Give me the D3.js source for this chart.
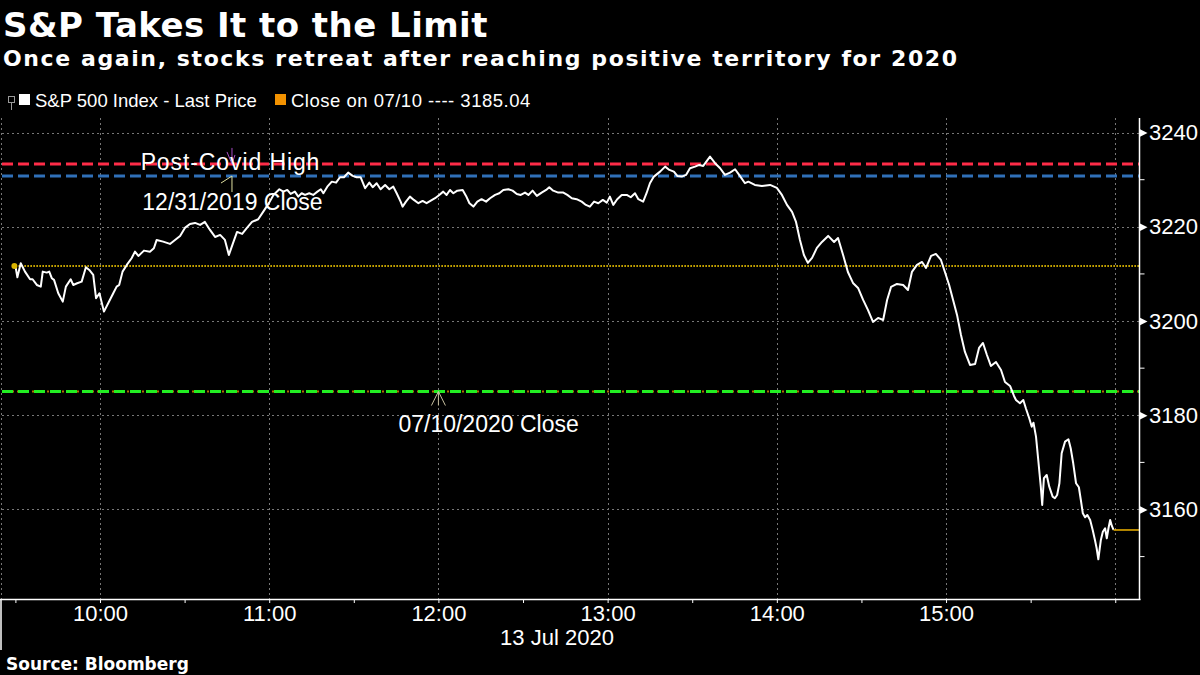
<!DOCTYPE html>
<html><head><meta charset="utf-8">
<script src="https://cdn.jsdelivr.net/npm/d3@7"></script>
<style>
body{margin:0;background:#000;}
svg{display:block;background:#000}
</style></head><body>
<svg id="c" width="1200" height="675"></svg>
<script>
// ---- DATA ----
// minutes after the 09:30 open on 13 Jul 2020
const minutesFromOpen = [
0.0,0.7,1.9,3.4,5.2,6.1,7.6,9.0,9.7,11.1,12.0,12.9,13.7,15.2,16.8,17.9,19.6,20.5,21.9,23.5,
25.0,26.2,27.6,28.6,29.8,31.4,32.9,34.7,35.9,36.8,38.0,39.5,41.2,42.4,43.6,45.6,47.7,49.1,50.1,52.4,
54.8,56.6,58.4,60.1,61.9,63.7,65.5,67.2,69.0,70.8,72.6,74.3,75.7,77.2,78.6,80.4,82.1,83.9,86.1,87.9,
90.0,91.5,93.6,95.0,96.4,97.6,99.1,100.3,101.5,102.7,104.2,105.6,107.1,108.3,109.2,110.6,112.2,113.7,115.1,116.5,
118.0,119.6,121.0,122.4,124.0,125.5,126.7,128.1,129.5,131.1,132.6,134.0,135.2,136.6,137.3,138.5,139.9,141.3,142.9,144.4,
145.8,147.3,148.8,150.3,151.7,152.9,154.1,155.3,156.7,158.6,159.8,161.0,162.4,163.8,165.3,166.9,168.3,170.1,171.6,173.0,
174.8,176.3,177.8,179.2,180.7,181.9,183.4,184.9,186.6,188.2,189.3,190.7,192.5,194.3,195.7,197.3,199.0,200.8,202.3,203.7,
205.2,206.7,208.3,209.7,210.8,212.0,213.4,215.0,216.8,218.2,219.7,220.9,222.6,223.8,225.0,226.4,228.6,230.4,231.9,233.5,
234.7,236.3,237.8,239.2,241.0,242.5,243.9,246.3,248.1,249.9,251.6,253.4,255.2,256.9,258.7,259.9,262.2,264.7,267.6,270.0,
271.8,273.6,275.4,276.8,278.2,279.6,281.0,282.5,284.2,286.0,288.2,290.3,291.7,293.5,295.2,297.0,298.8,300.6,302.3,304.1,
305.9,307.7,309.1,310.5,312.6,314.8,316.5,317.9,319.7,321.5,322.9,324.7,326.4,328.2,329.6,331.1,332.5,333.9,335.3,336.7,
338.5,340.3,341.7,343.1,344.5,345.9,347.7,349.5,350.9,352.7,354.1,354.8,356.2,357.4,358.3,359.5,360.4,361.0,361.9,362.7,
363.6,364.1,364.7,365.7,366.6,367.8,368.6,369.4,370.2,371.0,372.2,373.4,374.2,375.1,376.1,377.1,377.8,378.5,379.3,380.1,
381.1,382.0,382.8,383.4,384.0,384.9,385.6,386.4,387.0,387.6,388.2,388.8,389.4
];
const prices = [
3211.70,3209.30,3212.27,3210.49,3208.87,3208.87,3207.66,3207.30,3210.49,3210.28,3210.49,3209.09,3208.73,3205.90,3204.12,3207.30,3208.87,3207.66,3208.02,3208.37,
3211.42,3210.85,3209.79,3204.84,3205.90,3202.00,3203.78,3205.90,3207.30,3207.66,3210.49,3211.91,3213.33,3214.73,3213.82,3214.95,3214.73,3215.46,3217.22,3216.86,
3216.37,3217.22,3218.07,3219.77,3220.61,3220.83,3220.40,3221.04,3219.34,3217.85,3218.28,3217.22,3214.03,3216.58,3218.92,3218.49,3219.77,3221.04,3221.61,3223.23,
3225.14,3226.77,3227.98,3227.47,3227.83,3226.98,3227.47,3226.41,3227.13,3226.77,3227.13,3226.77,3227.47,3227.98,3227.13,3228.53,3229.59,3229.38,3230.53,3230.53,
3231.51,3230.81,3230.53,3230.53,3228.19,3229.38,3228.41,3229.26,3227.98,3228.89,3227.98,3228.53,3227.13,3225.35,3224.29,3225.35,3226.41,3225.71,3225.01,3225.50,
3225.01,3225.56,3226.07,3226.77,3227.47,3226.77,3227.83,3227.13,3227.68,3227.83,3226.56,3225.01,3224.29,3225.35,3225.86,3225.35,3226.07,3226.77,3227.13,3227.83,
3227.98,3227.68,3226.98,3226.77,3227.26,3226.77,3227.68,3226.56,3227.26,3227.83,3228.41,3227.68,3227.26,3227.26,3226.77,3226.07,3225.86,3225.35,3224.65,3224.29,
3225.35,3225.01,3225.71,3225.14,3226.41,3224.65,3225.86,3226.77,3226.77,3226.28,3227.13,3225.86,3225.35,3227.13,3229.26,3230.66,3231.72,3232.78,3232.08,3231.72,
3230.81,3230.66,3231.02,3232.44,3232.78,3233.14,3232.93,3234.90,3233.50,3232.44,3231.02,3231.51,3232.23,3230.81,3229.26,3229.59,3228.89,3228.68,3228.89,3228.26,
3226.77,3224.65,3223.16,3221.04,3217.22,3214.03,3212.34,3213.40,3215.52,3216.79,3218.07,3216.79,3217.64,3214.03,3210.42,3208.09,3207.03,3204.48,3202.36,3199.81,
3200.66,3200.23,3204.48,3207.24,3207.88,3207.66,3206.60,3210.42,3211.91,3212.55,3211.27,3213.82,3214.25,3212.97,3210.42,3207.66,3204.48,3201.30,3197.05,3193.44,
3190.68,3190.89,3194.29,3195.35,3192.80,3190.47,3191.32,3189.62,3187.07,3186.22,3184.10,3183.25,3182.55,3183.25,3181.49,3179.36,3177.58,3178.43,3175.46,3170.51,
3164.84,3160.96,3166.63,3167.33,3164.84,3162.72,3162.38,3163.08,3165.57,3171.93,3174.40,3174.91,3173.00,3169.81,3165.57,3164.72,3162.02,3159.20,3158.35,3158.84,
3157.77,3155.65,3153.53,3151.77,3149.43,3153.53,3155.29,3156.01,3153.89,3156.01,3157.77,3156.50,3155.65
];
const yTicksMajor = [3160, 3180, 3200, 3220, 3240];
const yTicksMinor = [3150, 3170, 3190, 3210, 3230];
const xTickLabels = ["10:00", "11:00", "12:00", "13:00", "14:00", "15:00"];
const refNames  = ["Post-Covid High", "12/31/2019 Close", "Open", "07/10/2020 Close"];
const refValues = [3233.35, 3230.78, 3211.70, 3185.04];
const legendLabels = ["S&P 500 Index - Last Price", "Close on 07/10 ---- 3185.04"];
const dateLabel = "13 Jul 2020";

// ---- LAYOUT ----
const svg = d3.select("#c");
const L = 2, R = 1139.5, T = 118, B = 599;
const base = new Date(2020, 6, 13, 9, 30);
const tm = m => new Date(base.getTime() + m * 60000);
const x = d3.scaleTime().domain([tm(-4.75), tm(398.6)]).range([L, R]);
const y = d3.scaleLinear().domain([3141.0, 3243.1]).range([B, T]);
const data = minutesFromOpen.map((m, i) => ({t: tm(m), v: prices[i]}));
const fontAxis = "'Liberation Sans', Arial, sans-serif";
const fontBold = "'DejaVu Sans', Verdana, sans-serif";

// titles
svg.append("text").attr("x", 3).attr("y", 37).attr("fill", "#fff")
  .attr("font-family", fontBold).attr("font-weight", "bold").attr("font-size", 34)
  .attr("letter-spacing", 0.45)
  .text("S&P Takes It to the Limit");
svg.append("text").attr("x", 3).attr("y", 66).attr("fill", "#fff")
  .attr("font-family", fontBold).attr("font-weight", "bold").attr("font-size", 22)
  .attr("letter-spacing", 1.6)
  .text("Once again, stocks retreat after reaching positive territory for 2020");

// legend
const lg = svg.append("g");
lg.append("rect").attr("x", 8.5).attr("y", 96.5).attr("width", 6).attr("height", 6)
  .attr("fill", "none").attr("stroke", "#999");
lg.append("line").attr("x1", 11.5).attr("x2", 11.5).attr("y1", 103).attr("y2", 110).attr("stroke", "#999");
lg.append("rect").attr("x", 19).attr("y", 94).attr("width", 11).attr("height", 11).attr("fill", "#fff");
lg.append("text").attr("x", 35).attr("y", 107).attr("fill", "#fff").attr("font-family", fontAxis)
  .attr("font-size", 18.5).text(legendLabels[0]);
lg.append("rect").attr("x", 275).attr("y", 94).attr("width", 11).attr("height", 11).attr("fill", "#f39200");
lg.append("text").attr("x", 291).attr("y", 107).attr("fill", "#fff").attr("font-family", fontAxis)
  .attr("font-size", 18.5).attr("letter-spacing", 0.5).text(legendLabels[1]);

// grid
const grid = svg.append("g").attr("stroke", "#777").attr("stroke-width", 1).attr("stroke-dasharray", "2,3");
const hourTicks = d3.range(10, 17).map(h => new Date(2020, 6, 13, h, 0));
grid.selectAll(".vg").data(hourTicks).join("line")
  .attr("x1", d => Math.round(x(d)) + 0.5).attr("x2", d => Math.round(x(d)) + 0.5)
  .attr("y1", T).attr("y2", B);
grid.append("line").attr("x1", L - 0.5).attr("x2", L - 0.5).attr("y1", T).attr("y2", B);
grid.selectAll(".hg").data(yTicksMajor).join("line")
  .attr("x1", L).attr("x2", R).attr("y1", d => Math.round(y(d)) + 0.5).attr("y2", d => Math.round(y(d)) + 0.5);

// reference lines
const refColors = ["#ff2c48", "#3070b8", null, "#22ee22"];
svg.append("line").attr("x1", x(tm(0))).attr("x2", R).attr("y1", y(refValues[2])).attr("y2", y(refValues[2]))
  .attr("stroke", "#d9b400").attr("stroke-width", 2).attr("stroke-dasharray", "1.5,1.5");
svg.append("line").attr("x1", L).attr("x2", R).attr("y1", y(refValues[3])).attr("y2", y(refValues[3]))
  .attr("stroke", "#b07000").attr("stroke-width", 2).attr("stroke-dasharray", "2,3");
[0, 1, 3].forEach(i => {
  svg.append("line").attr("x1", L).attr("x2", R).attr("y1", y(refValues[i])).attr("y2", y(refValues[i]))
    .attr("stroke", refColors[i]).attr("stroke-width", 3).attr("stroke-dasharray", "11,5");
});

// price line
svg.append("path").datum(data)
  .attr("fill", "none").attr("stroke", "#fff").attr("stroke-width", 2).attr("stroke-linejoin", "round")
  .attr("d", d3.line().x(d => x(d.t)).y(d => y(d.v)));
svg.append("circle").attr("cx", x(data[0].t) - 1).attr("cy", y(data[0].v)).attr("r", 3).attr("fill", "#d9b400");
const last = data[data.length - 1];
svg.append("line").attr("x1", x(last.t)).attr("x2", R).attr("y1", y(last.v)).attr("y2", y(last.v))
  .attr("stroke", "#f0b400").attr("stroke-width", 1.5);

// annotations
const ann = svg.append("g").attr("font-family", fontAxis).attr("font-size", 23).attr("fill", "#fff");
const ax = x(tm(76.8));
// Post-Covid High (arrow pointing down)
const yPC = y(refValues[0]);
ann.append("path").attr("d", `M${ax},${yPC - 16}L${ax},${yPC}M${ax - 5},${yPC - 12}L${ax},${yPC}L${ax + 3},${yPC - 9}`)
  .attr("stroke", "#a64cc4").attr("stroke-width", 1).attr("fill", "none");
ann.append("text").attr("x", ax - 1.5).attr("y", yPC + 6).attr("text-anchor", "middle")
  .attr("letter-spacing", 0.9).text(refNames[0]);
// 12/31/2019 Close (arrow pointing up)
const yDC = y(refValues[1]);
ann.append("path").attr("d", `M${ax},${yDC + 16}L${ax},${yDC}M${ax - 11},${yDC + 7}L${ax},${yDC}`)
  .attr("stroke", "#e0e0a0").attr("stroke-width", 1).attr("fill", "none");
ann.append("text").attr("x", ax + 0.5).attr("y", yDC + 34).attr("text-anchor", "middle").text(refNames[1]);
// 07/10/2020 Close
const bx = x(new Date(2020, 6, 13, 12, 0)), yJC = y(refValues[3]);
ann.append("path").attr("d", `M${bx - 7},${yJC + 14}L${bx},${yJC}L${bx + 7},${yJC + 14}M${bx},${yJC}L${bx},${yJC + 14}`)
  .attr("stroke", "#c8c0a0").attr("stroke-width", 1).attr("fill", "none");
ann.append("text").attr("x", bx - 40).attr("y", yJC + 40).attr("text-anchor", "start").text(refNames[3]);

// x axis
const halfHours = d3.range(0, 391, 30).map(tm);
const fmt = d3.timeFormat("%H:%M");
const xAxis = d3.axisBottom(x).tickValues(halfHours).tickSize(4).tickPadding(2.5)
  .tickFormat(d => xTickLabels.includes(fmt(d)) ? fmt(d) : "");
const gx = svg.append("g").attr("transform", `translate(0,${B})`).call(xAxis);
gx.select(".domain").remove();
gx.selectAll(".tick line").attr("stroke", "#fff");
gx.selectAll(".tick text").attr("fill", "#fff").attr("font-family", fontAxis).attr("font-size", 22);
svg.append("line").attr("x1", 0).attr("x2", R + 1).attr("y1", B + 0.5).attr("y2", B + 0.5).attr("stroke", "#fff").attr("stroke-width", 1.5);
svg.append("line").attr("x1", 1).attr("x2", 1).attr("y1", B).attr("y2", 650).attr("stroke", "#fff").attr("stroke-width", 1.5);
svg.append("text").attr("x", 557).attr("y", 645).attr("text-anchor", "middle").attr("fill", "#fff")
  .attr("font-family", fontAxis).attr("font-size", 22).text(dateLabel);

// y axis (right)
const yAxis = d3.axisRight(y).tickValues(yTicksMajor).tickSize(0).tickPadding(9.5).tickFormat(d3.format("d"));
const gy = svg.append("g").attr("transform", `translate(${R},0)`).call(yAxis);
gy.select(".domain").remove();
gy.selectAll(".tick text").attr("fill", "#fff").attr("font-family", fontAxis).attr("font-size", 22);
gy.selectAll(".tick").append("path").attr("d", "M0,-4L8,0L0,4Z").attr("fill", "#fff");
svg.selectAll(".ymin").data(yTicksMinor).join("line")
  .attr("x1", R).attr("x2", R + 5).attr("y1", d => y(d)).attr("y2", d => y(d)).attr("stroke", "#fff");
svg.append("line").attr("x1", R).attr("x2", R).attr("y1", T).attr("y2", B + 1).attr("stroke", "#fff").attr("stroke-width", 1.5);

// source
svg.append("text").attr("x", 6).attr("y", 670).attr("fill", "#fff")
  .attr("font-family", fontBold).attr("font-weight", "bold").attr("font-size", 17).text("Source:  Bloomberg");
</script>
</body></html>
